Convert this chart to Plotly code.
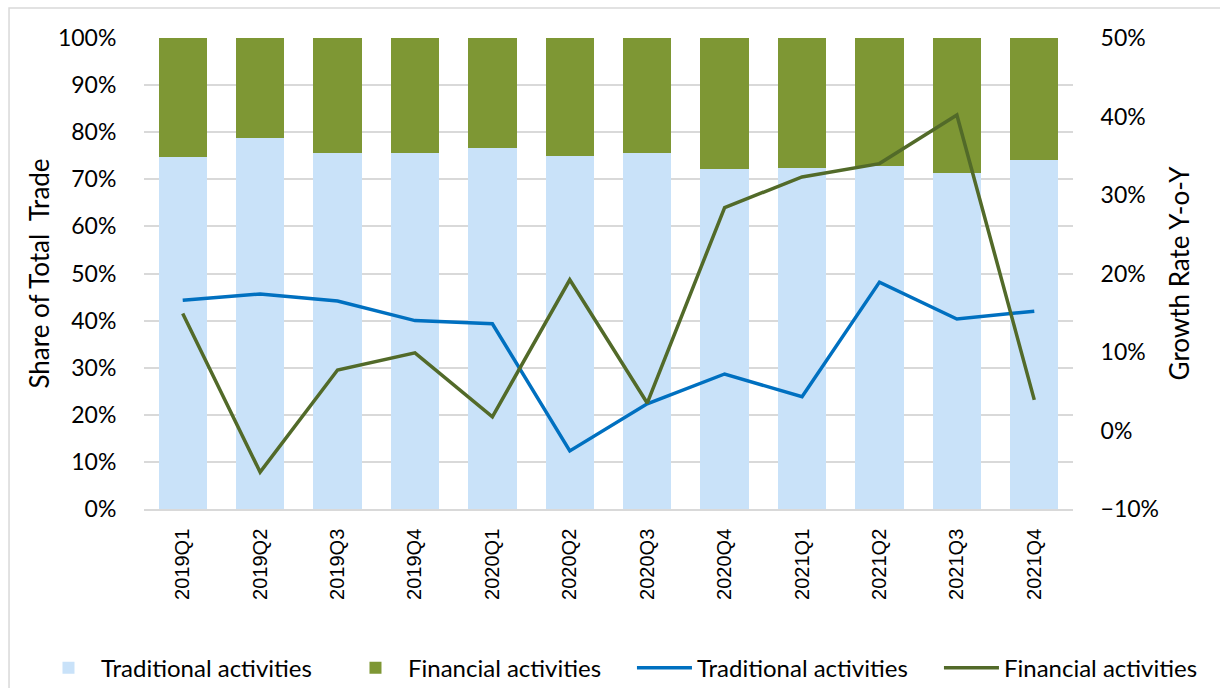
import plotly.graph_objects as go
from plotly.subplots import make_subplots

quarters = ['2019Q1', '2019Q2', '2019Q3', '2019Q4', '2020Q1', '2020Q2',
            '2020Q3', '2020Q4', '2021Q1', '2021Q2', '2021Q3', '2021Q4']

# share of total trade (%), stacked to 100
share_traditional = [74.8, 78.7, 75.5, 75.6, 76.7, 75.0, 75.5, 72.1, 72.3, 72.8, 71.4, 74.1]
share_financial = [100 - v for v in share_traditional]

# growth rate y-o-y (%)
growth_traditional = [16.6, 17.4, 16.5, 14.0, 13.6, -2.6, 3.4, 7.2, 4.3, 18.9, 14.2, 15.2]
growth_financial = [14.9, -5.3, 7.7, 9.9, 1.75, 19.2, 3.5, 28.4, 32.3, 34.0, 40.2, 3.9]

font_main = "Lato, Carlito, Calibri, sans-serif"

fig = make_subplots(specs=[[{"secondary_y": True}]])
fig.add_trace(go.Bar(x=quarters, y=share_traditional, name='Traditional activities',
                     marker=dict(color='#C9E2F9', line_width=0), legend='legend'), secondary_y=False)
fig.add_trace(go.Bar(x=quarters, y=share_financial, name='Financial activities',
                     marker=dict(color='#7E9734', line_width=0), legend='legend'), secondary_y=False)
fig.add_trace(go.Scatter(x=quarters, y=growth_traditional, name='Traditional activities', legend='legend2',
                         mode='lines', line=dict(color='#0070C0', width=3.5)), secondary_y=True)
fig.add_trace(go.Scatter(x=quarters, y=growth_financial, name='Financial activities', legend='legend2',
                         mode='lines', line=dict(color='#526A29', width=3.5)), secondary_y=True)

# two legends (bars / lines) so each half sits where the original puts it
legend_style = dict(orientation='h', xref='container', yref='container', xanchor='left',
                    y=0.029, yanchor='middle', font=dict(size=24), traceorder='normal',
                    itemwidth=55, entrywidth=237, entrywidthmode='pixels', bgcolor='rgba(0,0,0,0)')

fig.update_layout(
    width=1220, height=688,
    margin=dict(l=144, r=147, t=38, b=179, autoexpand=False),
    barmode='stack',
    bargap=0.375,
    plot_bgcolor='white',
    paper_bgcolor='white',
    font=dict(family=font_main, size=22, color='#000000'),
    showlegend=True,
    legend=dict(x=0.0295, **legend_style),
    legend2=dict(x=0.518, **legend_style),
    shapes=[dict(type='rect', xref='paper', yref='paper', x0=-0.1453, x1=1.16, y0=-0.389, y1=1.0637,
                 line=dict(color='#D9D9D9', width=1.5), fillcolor='rgba(0,0,0,0)', layer='below')],
)

fig.update_xaxes(domain=[0, 1], tickangle=-90,
                 tickfont=dict(family='Liberation Sans, Arial, sans-serif', size=20),
                 showgrid=False, showline=True, linecolor='#D9D9D9', linewidth=1.5, automargin=False,
                 ticks='outside', ticklen=10, tickcolor='rgba(0,0,0,0)')
fig.update_yaxes(range=[0, 100], dtick=10, ticksuffix='%', showgrid=True, gridcolor='#D9D9D9',
                 gridwidth=1.5, zeroline=False, ticks='outside', ticklen=22, automargin=False,
                 tickcolor='rgba(0,0,0,0)', tickfont=dict(size=23),
                 title=dict(text='Share of Total\u00a0 Trade', standoff=0),
                 secondary_y=False)
fig.update_yaxes(range=[-10, 50], dtick=10, ticksuffix='%', showgrid=False, zeroline=False,
                 ticks='outside', ticklen=22, tickcolor='rgba(0,0,0,0)', automargin=False,
                 tickfont=dict(size=23),
                 title=dict(text='Growth Rate Y-o-Y', standoff=12),
                 secondary_y=True)

fig.write_html("out.html", config={'displayModeBar': False},
               post_script="document.body.style.margin='0';")
